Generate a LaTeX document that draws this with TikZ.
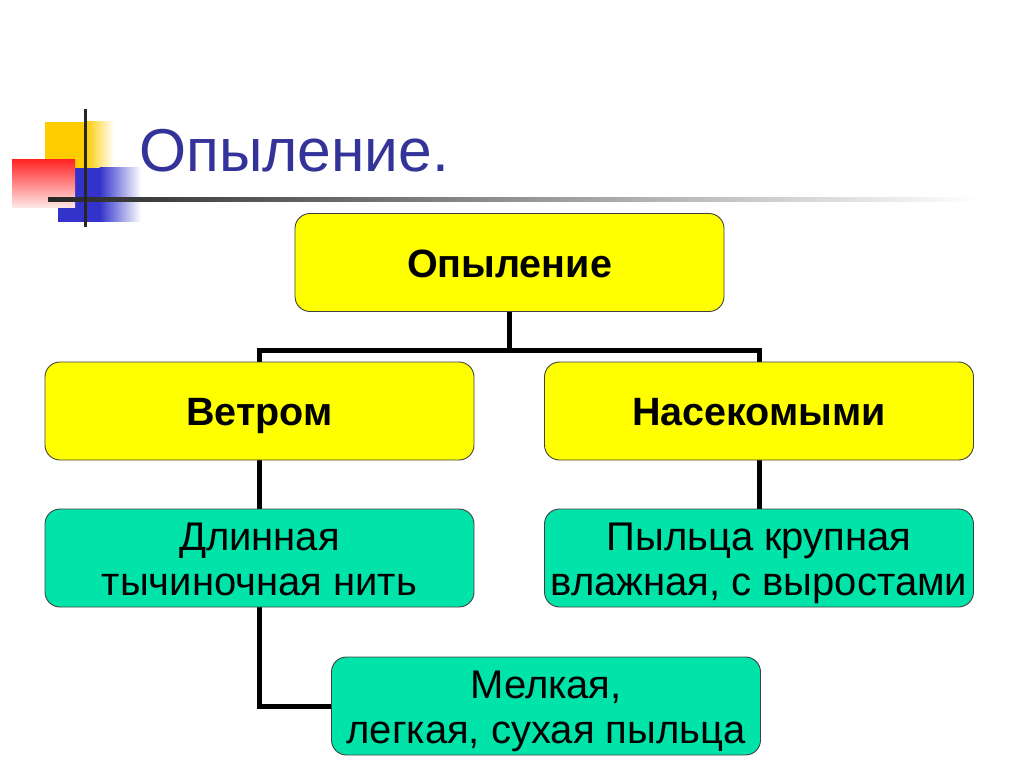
\documentclass[tikz,border=0pt]{standalone}
\usepackage{fontspec}
\setmainfont{Liberation Sans}
\pgfdeclarelayer{background}
\pgfsetlayers{background,main}
\definecolor{titleblue}{RGB}{51,51,153}
\definecolor{boxyellow}{RGB}{255,255,0}
\definecolor{boxgreen}{RGB}{0,228,170}
\definecolor{decoyellow}{RGB}{255,204,0}
\definecolor{decoblue}{RGB}{51,51,204}
\tikzset{
  ybox/.style={draw=black!75, line width=0.9pt, rounded corners=15pt, fill=boxyellow,
    minimum width=429pt, minimum height=98pt, align=center,
    text height=29pt, text depth=0pt,
    font=\fontsize{39.5}{46}\selectfont\bfseries},
  gbox/.style={draw=black!75, line width=0.9pt, rounded corners=15pt, fill=boxgreen,
    minimum width=429pt, minimum height=98pt, align=center,
    text height=80pt, text depth=6pt,
    font=\fontsize{40}{45}\selectfont},
  conn/.style={line width=5pt, black},
}
\begin{document}
\begin{tikzpicture}[x=1pt,y=-1pt]
\useasboundingbox (0,0) rectangle (1024,767);
% decoration
\fill[decoyellow] (45,122) rectangle (86,168);
\shade[left color=decoyellow, right color=white] (85.5,122) rectangle (114,168);
\fill[decoblue] (58,168) rectangle (100,222);
\shade[left color=decoblue, right color=white] (99.5,168) rectangle (141,222);
\shade[shading=axis, shading angle=-135, top color=red!85!white, bottom color=red!8!white] (12,160) rectangle (75,208);
\shade[left color=black!85, middle color=black!25, right color=white] (48,197.5) rectangle (978,201.5);
\draw[line width=3pt, black!85] (85,109) -- (85,227);
\node[anchor=base west, inner sep=0pt, text=titleblue, font=\fontsize{60.5}{70}\selectfont] (title) at (139,172) {Опыление.};
% boxes
\node[ybox] (top) at (509.5,262.5) {Опыление};
\node[ybox] (wind) at (259.5,411) {Ветром};
\node[ybox] (insect) at (759,411) {Насекомыми};
\node[gbox] (long) at (259.5,558) {Длинная\\тычиночная нить};
\node[gbox] (big) at (759,558) {Пыльца крупная\\влажная, с выростами};
\node[gbox] (small) at (546,706) {Мелкая,\\легкая, сухая пыльца};
\begin{pgfonlayer}{background}
\draw[conn] (top.south) -- ++(0,39) coordinate (mid);
\draw[conn] (wind.north) |- (mid) -| (insect.north);
\draw[conn] (wind.south) |- (small.west);
\draw[conn] (insect.south) -- (big.north);
\end{pgfonlayer}
\end{tikzpicture}
\end{document}
